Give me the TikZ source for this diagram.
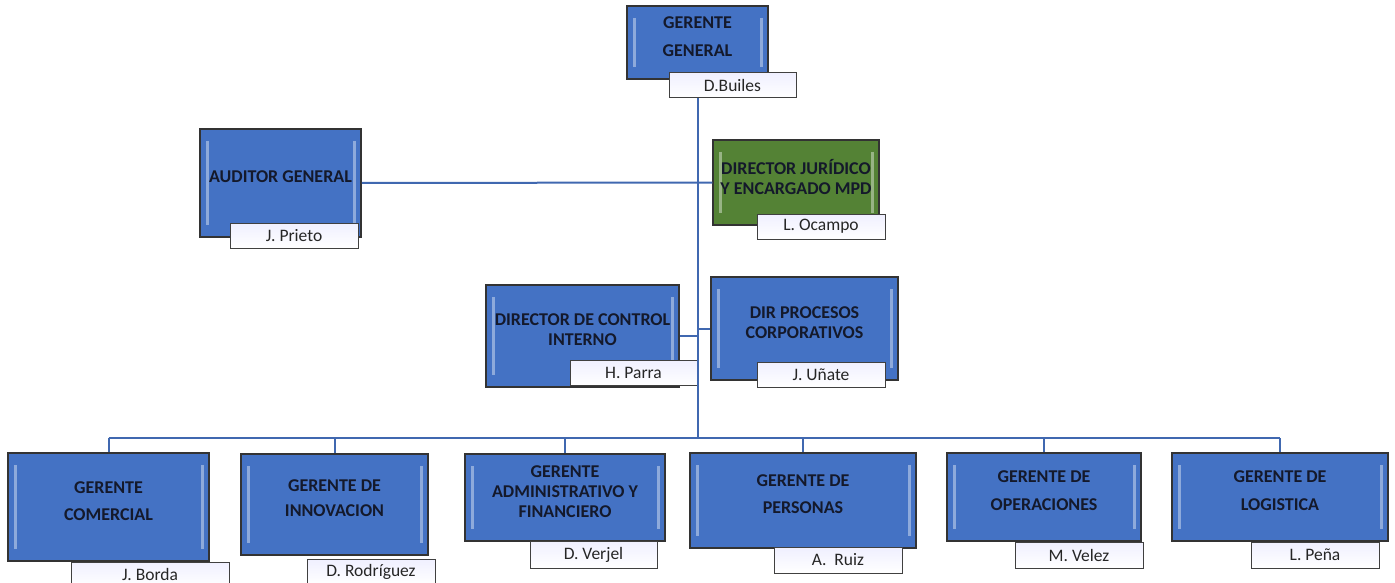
\documentclass[tikz,border=0pt]{standalone}
\usepackage{fontspec}
\setmainfont{Carlito}
\usepackage{tikz}

\definecolor{boxblue}{HTML}{4472C4}
\definecolor{boxgreen}{HTML}{548235}
\definecolor{linkblue}{HTML}{4068B0}
\definecolor{boxtext}{HTML}{14192B}

\begin{document}
\begin{tikzpicture}[
    x=1pt,y=-1pt,
    Box/.style={draw=black!80,line width=1.5pt,fill=boxblue,text=boxtext,align=center,inner sep=2pt,text depth=12pt,
      font=\fontsize{18}{20}\selectfont\bfseries,
      path picture={
        \draw[line width=3pt,white,opacity=.4]
          ([shift={(7pt,-12pt)}]path picture bounding box.north west) -- ([shift={(7pt,12pt)}]path picture bounding box.south west);
        \draw[line width=3pt,white,opacity=.4]
          ([shift={(-7pt,-12pt)}]path picture bounding box.north east) -- ([shift={(-7pt,12pt)}]path picture bounding box.south east);
      }},
    GreenBox/.style={Box,fill=boxgreen},
    Name/.style={draw=black!75,line width=1pt,top color=blue!6,bottom color=white,text=black!85,inner sep=0pt,
      minimum width=127pt,minimum height=25pt,font=\fontsize{17.5}{20}\selectfont},
    Line/.style={draw=linkblue,line width=2pt},
    ]

    \useasboundingbox (0,0) rectangle (1395,583);

    % top and staff
    \node[Box,minimum width=141pt,minimum height=73pt] at (697.5,42.5) (GG) {GERENTE\\[8pt]GENERAL};
    \node[Name] at (732.5,85.5) (GGn) {D.Builes};

    \node[Box,minimum width=161pt,minimum height=108pt] at (280.5,183) (AUD) {AUDITOR GENERAL};
    \node[Name,minimum width=128pt] at (294,236) (AUDn) {J. Prieto};

    \node[GreenBox,minimum width=166pt,minimum height=85pt] at (796,182.5) (JUR) {DIRECTOR JURÍDICO\\Y ENCARGADO MPD};
    \node[Name,minimum width=128pt] at (821,226.5) (JURn) {L. Ocampo};

    \node[Box,minimum width=193pt,minimum height=102pt] at (582.5,336) (CTL) {DIRECTOR DE CONTROL\\INTERNO};
    \node[Name] at (633.5,373) (CTLn) {H. Parra};

    \node[Box,minimum width=187pt,minimum height=103pt] at (804.5,328.5) (PRO) {DIR PROCESOS\\CORPORATIVOS};
    \node[Name,minimum width=128pt] at (821,374.5) (PROn) {J. Uñate};

    % gerencias
    \node[Box,minimum width=201pt,minimum height=108pt] at (108.5,507) (COM) {GERENTE\\[7pt]COMERCIAL};
    \node[Name,minimum width=158pt] at (150,574.5) (COMn) {J. Borda};

    \node[Box,minimum width=187pt,minimum height=101pt] at (334.5,504.5) (INN) {GERENTE DE\\[5pt]INNOVACION};
    \node[Name,minimum width=128pt] at (371,572) (INNn) {D. Rodríguez};

    \node[Box,minimum width=200pt,minimum height=87pt] at (565,497.5) (ADM) {GERENTE\\ADMINISTRATIVO Y\\FINANCIERO};
    \node[Name,minimum height=27pt] at (593.5,554.5) (ADMn) {D. Verjel};

    \node[Box,minimum width=226pt,minimum height=95pt] at (803,500.5) (PER) {GERENTE DE\\[7pt]PERSONAS};
    \node[Name,minimum width=128pt,minimum height=26pt] at (838,560) (PERn) {A.\ \ Ruiz};

    \node[Box,minimum width=194pt,minimum height=88pt] at (1044,497) (OPE) {GERENTE DE\\[8pt]OPERACIONES};
    \node[Name,minimum width=128pt,minimum height=26pt] at (1079,555) (OPEn) {M. Velez};

    \node[Box,minimum width=216pt,minimum height=88pt] at (1280,497) (LOG) {GERENTE DE\\[8pt]LOGISTICA};
    \node[Name,minimum width=128pt,minimum height=26pt] at (1315,555) (LOGn) {L. Peña};

    \coordinate (bus) at (697.5,438);

    \draw[Line] (GG.south |- GGn.south) -- (bus);
    \draw[Line] (AUD.east) -- (JUR.west);
    \draw[Line] (CTL.east) -- (CTL.east -| bus);
    \draw[Line] (PRO.west) -- (PRO.west -| bus);
    \draw[Line] (COM.north |- bus) -- (LOG.north |- bus);
    \foreach \n in {COM,INN,ADM,PER,OPE,LOG}
      \draw[Line] (\n.north |- bus) -- (\n.north);
  \end{tikzpicture}
\end{document}
